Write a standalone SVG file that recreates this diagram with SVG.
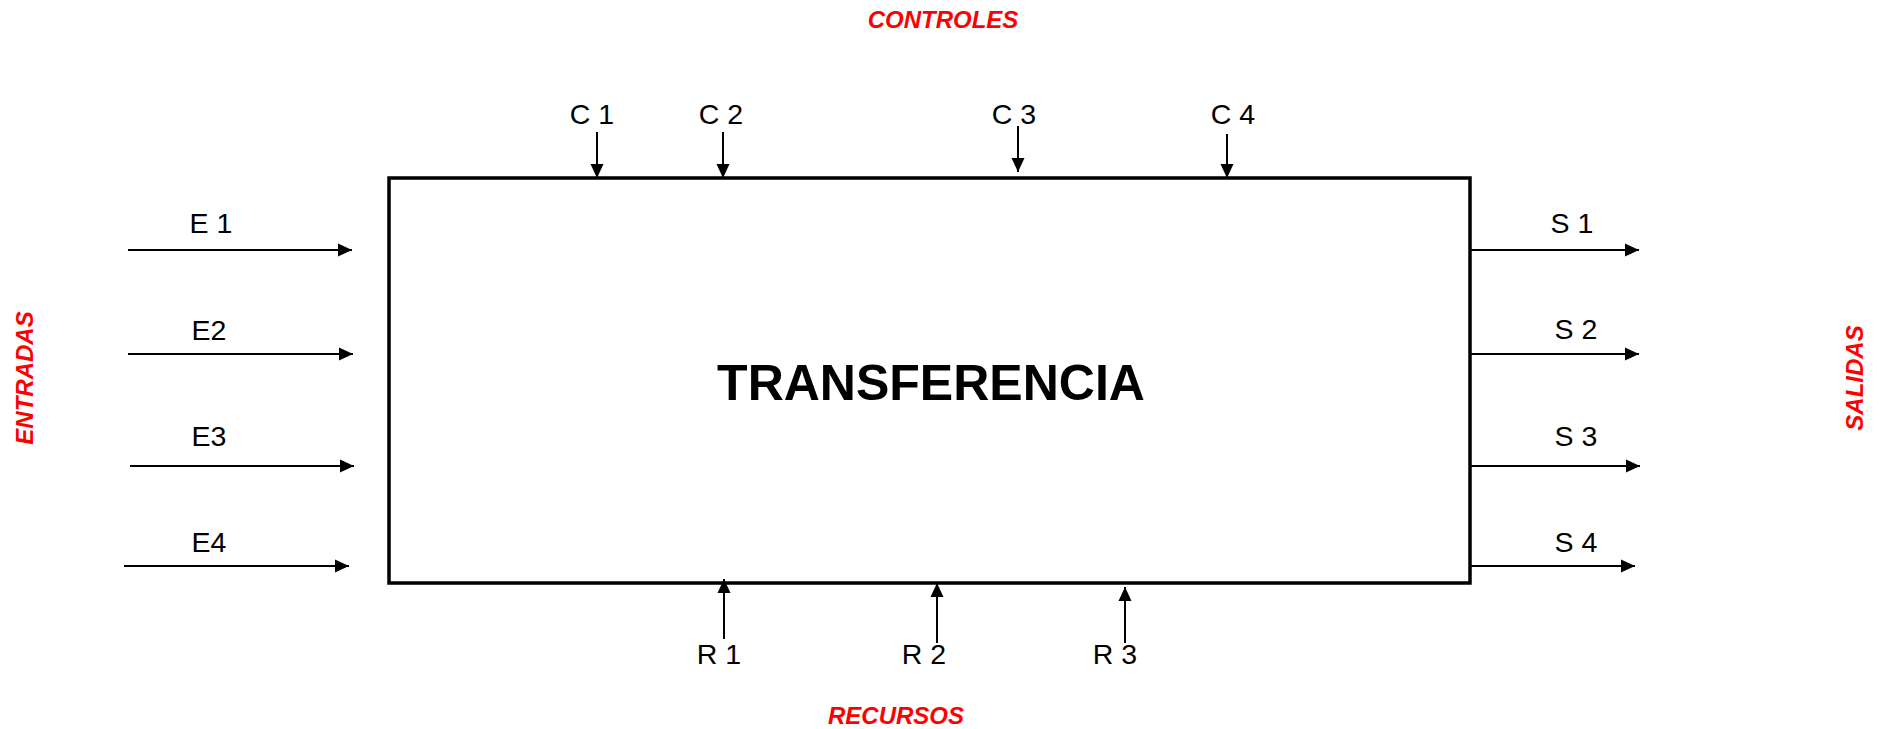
<svg xmlns="http://www.w3.org/2000/svg" width="1883" height="729" viewBox="0 0 1883 729">
<style>
.lbl{font-family:"Liberation Sans",Arial,sans-serif;font-size:28.5px;fill:#000;text-anchor:middle}
.red{font-family:"Liberation Sans",Arial,sans-serif;font-size:24px;font-weight:bold;font-style:italic;fill:#ff0000;text-anchor:middle}
.title{font-family:"Liberation Sans",Arial,sans-serif;font-size:50px;font-weight:bold;fill:#000;text-anchor:middle}
.arr{stroke:#000;stroke-width:2;fill:none;marker-end:url(#ah)}
</style>
<defs>
<marker id="ah" markerUnits="userSpaceOnUse" markerWidth="15" markerHeight="15" refX="14" refY="7" orient="auto" viewBox="0 0 15 15">
<path d="M0,0.5 L14,7 L0,13.5 z" fill="#000"/>
</marker>
</defs>
<rect width="1883" height="729" fill="#fff"/>
<g id="proceso">
<rect x="389" y="178" width="1081" height="405" fill="#fff" stroke="#000" stroke-width="3.5"/>
<text class="title" x="931" y="400">TRANSFERENCIA</text>
</g>
<g id="conectores">
<line class="arr" x1="597" y1="132" x2="597" y2="178"/>
<line class="arr" x1="723" y1="132" x2="723" y2="178"/>
<line class="arr" x1="1018" y1="126" x2="1018" y2="172"/>
<line class="arr" x1="1227" y1="134" x2="1227" y2="178"/>
<line class="arr" x1="128" y1="250" x2="352" y2="250"/>
<line class="arr" x1="128" y1="354" x2="353" y2="354"/>
<line class="arr" x1="130" y1="466" x2="354" y2="466"/>
<line class="arr" x1="124" y1="566" x2="349" y2="566"/>
<line class="arr" x1="1470" y1="250" x2="1639" y2="250"/>
<line class="arr" x1="1470" y1="354" x2="1639" y2="354"/>
<line class="arr" x1="1470" y1="466" x2="1640" y2="466"/>
<line class="arr" x1="1470" y1="566" x2="1635" y2="566"/>
<line class="arr" x1="724" y1="639" x2="724" y2="579"/>
<line class="arr" x1="937" y1="643" x2="937" y2="583"/>
<line class="arr" x1="1125" y1="643" x2="1125" y2="587"/>
</g>
<g id="etiquetas">
<text class="lbl" x="592" y="124">C 1</text>
<text class="lbl" x="721" y="124">C 2</text>
<text class="lbl" x="1014" y="124">C 3</text>
<text class="lbl" x="1233" y="124">C 4</text>
<text class="lbl" x="211" y="233">E 1</text>
<text class="lbl" x="209" y="340">E2</text>
<text class="lbl" x="209" y="446">E3</text>
<text class="lbl" x="209" y="552">E4</text>
<text class="lbl" x="1572" y="233">S 1</text>
<text class="lbl" x="1576" y="339">S 2</text>
<text class="lbl" x="1576" y="446">S 3</text>
<text class="lbl" x="1576" y="552">S 4</text>
<text class="lbl" x="719" y="664">R 1</text>
<text class="lbl" x="924" y="664">R 2</text>
<text class="lbl" x="1115" y="664">R 3</text>
</g>
<g id="titulos">
<text class="red" x="943" y="28">CONTROLES</text>
<text class="red" x="896" y="724">RECURSOS</text>
<text class="red" transform="translate(33,378) rotate(-90)" x="0" y="0" font-size="25">ENTRADAS</text>
<text class="red" transform="translate(1863,378) rotate(-90)" x="0" y="0" font-size="25">SALIDAS</text>
</g>
</svg>
